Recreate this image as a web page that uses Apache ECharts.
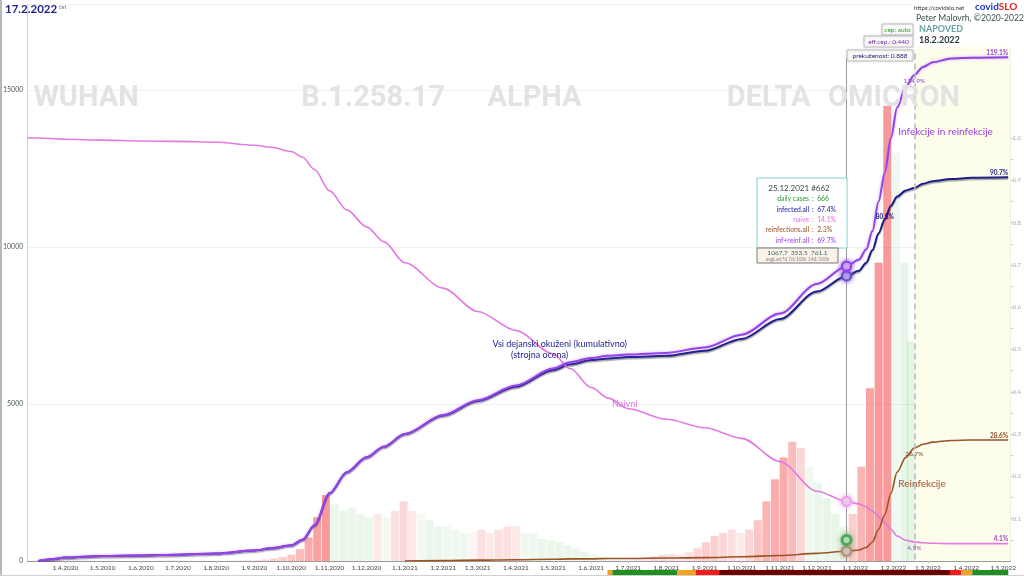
<!DOCTYPE html>
<html><head><meta charset="utf-8">
<script src="https://cdn.jsdelivr.net/npm/echarts@6/dist/echarts.min.js"></script>
<style>
html,body{margin:0;padding:0;background:#fff;}
#wrap{position:relative;width:1024px;height:576px;overflow:hidden;}
#chart{width:1024px;height:576px;}
.bl{position:absolute;left:0;top:0;width:2px;height:576px;background:#b8b8b8;}
.bb{position:absolute;left:0;bottom:0;width:1024px;height:1px;background:#d0d0d0;}
</style></head><body>
<div id="wrap"><div id="chart"></div><div class="bl"></div><div class="bb"></div></div>
<script>
// ---------- data ----------
const lineDates = ['2020-03-01','2020-03-10','2020-03-20','2020-04-01','2020-05-01','2020-06-01','2020-07-01','2020-08-01','2020-09-01','2020-09-15',
 '2020-10-01','2020-10-10','2020-10-20','2020-11-01','2020-11-15','2020-12-01','2020-12-15','2021-01-01','2021-02-01','2021-03-01',
 '2021-04-01','2021-05-01','2021-05-15','2021-06-01','2021-06-15','2021-07-01','2021-08-01','2021-09-01','2021-10-01','2021-11-01',
 '2021-12-01','2021-12-25','2022-01-04','2022-01-10','2022-01-15','2022-01-20','2022-01-25','2022-01-30','2022-02-04','2022-02-11',
 '2022-02-18','2022-02-25','2022-03-05','2022-03-20','2022-04-05','2022-05-05'];
const infReinf = [null,0.0,0.004,0.008,0.012,0.013,0.015,0.018,0.025,0.03,
 0.037,0.05,0.085,0.16,0.21,0.245,0.27,0.30,0.345,0.38,
 0.415,0.455,0.47,0.48,0.485,0.488,0.492,0.505,0.535,0.585,
 0.655,0.697,0.712,0.737,0.78,0.85,0.918,1.0,1.072,1.121,
 1.149,1.168,1.179,1.188,1.19,1.191];
const infectedAll = [null,0.0,0.004,0.008,0.012,0.013,0.015,0.018,0.025,0.03,
 0.037,0.05,0.085,0.16,0.21,0.245,0.27,0.30,0.344,0.378,
 0.412,0.451,0.465,0.475,0.479,0.482,0.485,0.497,0.525,0.572,
 0.637,0.674,0.686,0.705,0.735,0.775,0.808,0.84,0.862,0.876,
 0.882,0.892,0.898,0.903,0.906,0.907];
const naive = [1.0,1.0,0.999,0.997,0.995,0.993,0.992,0.99,0.983,0.978,
 0.968,0.955,0.925,0.875,0.83,0.79,0.755,0.705,0.645,0.59,
 0.545,0.49,0.455,0.41,0.385,0.36,0.335,0.315,0.29,0.235,
 0.165,0.141,0.135,0.128,0.118,0.105,0.09,0.075,0.059,0.049,
 0.045,0.043,0.042,0.041,0.041,0.041];
const reinfections = [null,null,null,null,null,null,null,null,null,null,
 null,null,null,null,null,null,null,0.0,0.001,0.002,
 0.003,0.004,0.005,0.005,0.006,0.006,0.007,0.008,0.010,0.013,
 0.018,0.023,0.026,0.032,0.045,0.075,0.11,0.16,0.21,0.245,
 0.267,0.276,0.281,0.285,0.286,0.286];

const weekDates = [
 '2020-03-05','2020-03-12','2020-03-19','2020-03-26','2020-04-02','2020-04-09','2020-04-16','2020-04-23','2020-04-30',
 '2020-05-07','2020-05-14','2020-05-21','2020-05-28','2020-06-04','2020-06-11','2020-06-18','2020-06-25',
 '2020-07-02','2020-07-09','2020-07-16','2020-07-23','2020-07-30','2020-08-06','2020-08-13','2020-08-20','2020-08-27',
 '2020-09-03','2020-09-10','2020-09-17','2020-09-24','2020-10-01','2020-10-08','2020-10-15','2020-10-22','2020-10-29',
 '2020-11-05','2020-11-12','2020-11-19','2020-11-26','2020-12-03','2020-12-10','2020-12-17','2020-12-24','2020-12-31',
 '2021-01-07','2021-01-14','2021-01-21','2021-01-28','2021-02-04','2021-02-11','2021-02-18','2021-02-25',
 '2021-03-04','2021-03-11','2021-03-18','2021-03-25','2021-04-01','2021-04-08','2021-04-15','2021-04-22','2021-04-29',
 '2021-05-06','2021-05-13','2021-05-20','2021-05-27','2021-06-03','2021-06-10','2021-06-17','2021-06-24',
 '2021-07-01','2021-07-08','2021-07-15','2021-07-22','2021-07-29','2021-08-05','2021-08-12','2021-08-19','2021-08-26',
 '2021-09-02','2021-09-09','2021-09-16','2021-09-23','2021-09-30','2021-10-07','2021-10-14','2021-10-21','2021-10-28',
 '2021-11-04','2021-11-11','2021-11-18','2021-11-25','2021-12-02','2021-12-09','2021-12-16','2021-12-23','2021-12-30',
 '2022-01-06','2022-01-13','2022-01-20','2022-01-27','2022-02-03','2022-02-10','2022-02-15'];
const dailyCases = [
 10,40,60,55, 45,35,25,15,8, 5,3,3,3, 3,5,12,20, 25,20,15,15,15, 15,20,20,25, 35,50,80,130,
 200,380,750,1400,2100, 1800,1600,1700,1500, 1400,1500,1400,1600,1900,
 1600,1500,1300,1100, 1100,1000,900,900, 1000,900,1000,1100, 1100,900,900,700,650,
 600,500,400,300, 200,120,80,60, 60,70,100,150,200, 220,220,280,400,
 600,800,900,1000,900, 1000,1300,1900,2600, 3300,3800,3600,3000, 2500,2000,1500,1100,1500,
 3000,5500,9500,14500,13000,9500,7000];
const trend = [
 0.2,0.3,0.2,0, -0.2,-0.2,-0.2,-0.2,-0.2, -0.2,0,0,0, 0,0.1,0.2,0.2, 0.1,-0.1,-0.1,0,0, 0,0.1,0.1,0.1, 0.2,0.3,0.4,0.4,
 0.5,0.6,0.8,0.9,1.0, -0.3,-0.4,-0.3,-0.3, -0.3,0.1,-0.1,0.2,0.3,
 0.1,-0.1,-0.3,-0.3, -0.2,-0.2,-0.2,0, 0.2,0.1,0.2,0.2, 0.1,-0.2,-0.2,-0.3,-0.3,
 -0.3,-0.3,-0.3,-0.3, -0.3,-0.3,-0.2,-0.1, 0,0.1,0.2,0.3,0.3, 0.2,0.1,0.2,0.3,
 0.4,0.4,0.3,0.2,0.1, 0.3,0.5,0.7,0.8, 0.8,0.6,0.3,-0.2, -0.3,-0.4,-0.4,-0.4,0.4,
 0.7,0.9,1.0,1.0,-0.2,-0.4,-0.5];

const monthTicks = ['2020-04-01','2020-05-01','2020-06-01','2020-07-01','2020-08-01','2020-09-01','2020-10-01','2020-11-01','2020-12-01',
 '2021-01-01','2021-02-01','2021-03-01','2021-04-01','2021-05-01','2021-06-01','2021-07-01','2021-08-01','2021-09-01','2021-10-01',
 '2021-11-01','2021-12-01','2022-01-01','2022-02-01','2022-03-01','2022-04-01','2022-05-01'];
const rightTicks = [0.1,0.2,0.3,0.4,0.5,0.6,0.7,0.8,0.9,1.0];
const leftTicks = [0,5000,10000,15000];

const variantNames = ['WUHAN','B.1.258.17','ALPHA','DELTA','OMICRON'];
const variantDates = ['2020-03-06','2020-10-09','2021-03-09','2021-09-19','2021-12-10'];

const phaseStarts = ['2021-06-15','2021-06-19','2021-08-10','2021-08-25','2021-09-13','2022-03-18','2022-03-27','2022-04-05'];
const phaseEnds   = ['2021-06-19','2021-08-10','2021-08-25','2021-09-13','2022-03-18','2022-03-27','2022-04-05','2022-05-04'];
const phaseColors = ['#f2a321','#1f8f1f','#f2a321','#ee1c1c','#6b0000','#ee1c1c','#f2a321','#1f8f1f'];

const cursorDate = '2021-12-25';
const cursorDay = 662;
const cursorDaily = 666;
const cursorStats = ['1067.7','353.5','761.1'];
const forecastDate = '2022-02-18';
const navyLabelDate = '2022-01-25';

// ---------- helpers ----------
const ts = s => { const [y,m,d] = s.split('-').map(Number); return new Date(y, m-1, d).getTime(); };
const pct = v => (v*100).toFixed(1) + '%';
const xMin = ts('2020-03-01'), xMax = ts('2022-05-07');
const pts = arr => lineDates.map((d,i)=>[ts(d), arr[i]]);
const ci = lineDates.indexOf(cursorDate);
const fi = lineDates.indexOf(forecastDate);
const ni = lineDates.indexOf(navyLabelDate);
const li = lineDates.length - 1;
const FONT = 'Lato';

function barColor(t){
  if (t > 0) return 'rgba(244,80,80,' + (0.08 + 0.5*t).toFixed(2) + ')';
  if (t < 0) return 'rgba(110,200,110,' + (0.07 + 0.22*(-t)).toFixed(2) + ')';
  return 'rgba(240,150,150,0.10)';
}
function txt(coord, text, color, size, extra){
  return Object.assign({coord, symbol:'circle', symbolSize:1, itemStyle:{color:'rgba(0,0,0,0)'},
    label: Object.assign({show:true, formatter:text, position:'inside', align:'left', verticalAlign:'middle',
      color, fontSize:size, fontFamily:FONT}, extra||{})});
}
function valLabel(coord, text, color, pos){
  return {coord, symbol:'circle', symbolSize:1, itemStyle:{color:'rgba(0,0,0,0)'},
    label:{show:true, formatter:text, position:pos, distance:2, color, fontSize:6.5, fontFamily:FONT}};
}
function endLabel(coord, text, color){
  return {coord, symbol:'circle', symbolSize:1, itemStyle:{color:'rgba(0,0,0,0)'},
    label:{show:true, formatter:text, position:'inside', align:'right', verticalAlign:'bottom', offset:[0,-1],
      color, fontSize:6.5, fontFamily:FONT, fontWeight:'bold'}};
}
function dot(coord, fill, border){
  return {coord, symbol:'circle', symbolSize:9, itemStyle:{color:fill, borderColor:border, borderWidth:2.2,
    shadowBlur:5, shadowColor:border}, label:{show:false}};
}

// ---------- chart ----------
const chart = echarts.init(document.getElementById('chart'), null, {renderer:'canvas'});
const axisFont = {fontFamily:FONT, fontSize:6.5, color:'#444'};

const option = {
  animation:false,
  backgroundColor:'#fff',
  grid:[{left:23, right:12, top:4, bottom:15}, {left:23, right:12, top:570, height:5}],
  xAxis:[{
    type:'value', min:xMin, max:xMax, gridIndex:0,
    axisLine:{lineStyle:{color:'#9a9a9a', width:1}},
    axisTick:{show:true, length:2, lineStyle:{color:'#bbb'}, customValues: monthTicks.map(ts)},
    axisLabel:Object.assign({margin:3, customValues: monthTicks.map(ts), hideOverlap:false,
      formatter: v => { const d = new Date(v); return d.getDate()+'.'+(d.getMonth()+1)+'.'+d.getFullYear(); }}, axisFont),
    splitLine:{show:false}
  },{type:'value', min:xMin, max:xMax, gridIndex:1, show:false}],
  yAxis:[{
    type:'value', min:0, max:17739, interval:5000, gridIndex:0,
    axisLine:{show:true, lineStyle:{color:'#cfcfcf'}},
    axisTick:{show:false},
    axisLabel:Object.assign({margin:4, customValues:leftTicks, formatter:v=>String(v)}, axisFont, {color:'#4a5a5a', fontSize:7}),
    splitLine:{show:true, lineStyle:{color:'#e3e3e3', type:'dotted'}}
  },{
    type:'value', min:0, max:1.3168, gridIndex:0, position:'right',
    axisLine:{show:true, lineStyle:{color:'#dedede'}},
    axisTick:{show:true, length:3, inside:false, lineStyle:{color:'#cfcfcf'},
      customValues:[0.05,0.1,0.15,0.2,0.25,0.3,0.35,0.4,0.45,0.5,0.55,0.6,0.65,0.7,0.75,0.8,0.85,0.9,0.95,1.0]},
    axisLabel:{customValues:rightTicks, margin:2, fontFamily:FONT, fontSize:6, color:'#aaa', formatter:v=>v.toFixed(1)},
    splitLine:{show:false}
  },{type:'value', min:0, max:1, gridIndex:1, show:false}],
  series:[
    {
      name:'daily', type:'bar', xAxisIndex:0, yAxisIndex:0, barWidth:8, z:1,
      data: weekDates.map((d,i)=>({value:[ts(d), dailyCases[i]], itemStyle:{color:barColor(trend[i])}})),
      markArea:{silent:true, itemStyle:{color:'#fdfdec'}, data:[[{xAxis:ts(forecastDate)},{xAxis:xMax}]]},
      markPoint:{silent:true, data: variantNames.map((n,i)=>txt([ts(variantDates[i]), 14713], n, '#e3e3e3', 29,
        {fontFamily:'Roboto', fontWeight:'bold'}))}
    },
    {
      name:'infected.all', type:'line', yAxisIndex:1, data:pts(infectedAll), symbol:'none',
      smooth:0.3, smoothMonotone:'x', z:3,
      lineStyle:{color:'#1c1c8a', width:2, shadowColor:'rgba(0,0,0,0.35)', shadowOffsetY:1.5, shadowBlur:1},
      markLine:{silent:true, symbol:['none','none'], label:{show:false},
        data:[
          [{coord:[ts(cursorDate), 1.19], lineStyle:{color:'#9a9a9a', width:1, type:'solid'}}, {coord:[ts(cursorDate), 0]}],
          [{coord:[ts(forecastDate), 1.2], lineStyle:{color:'#b8b8b8', width:1.5, type:[6,4]}}, {coord:[ts(forecastDate), 0]}]
        ]},
      markPoint:{silent:true, data:[
        dot([ts(cursorDate), infectedAll[ci]], '#d8ccf4', '#6a50c8'),
        txt([ts(navyLabelDate), infectedAll[ni]], pct(infectedAll[ni]), '#1c1c8a', 6.5, {align:'center', fontWeight:'bold', offset:[0,-2]}),
        endLabel([ts(lineDates[li]), infectedAll[li]], pct(infectedAll[li]), '#1c1c8a'),
        txt([ts('2021-03-13'), 0.513], 'Vsi dejanski okuženi (kumulativno)', '#1c1c8a', 9),
        txt([ts('2021-03-28'), 0.487], '(strojna ocena)', '#1c1c8a', 9)
      ]}
    },
    {
      name:'inf+reinf.all', type:'line', yAxisIndex:1, data:pts(infReinf), symbol:'none',
      smooth:0.3, smoothMonotone:'x', z:4,
      lineStyle:{color:'#9443e6', width:2, shadowColor:'rgba(170,110,240,0.6)', shadowBlur:3},
      markPoint:{silent:true, data:[
        dot([ts(cursorDate), infReinf[ci]], '#e4d6fa', '#9443e6'),
        valLabel([ts(forecastDate), infReinf[fi]], pct(infReinf[fi]), '#9443e6', 'bottom'),
        endLabel([ts(lineDates[li]), infReinf[li]], pct(infReinf[li]), '#9443e6'),
        txt([ts('2022-02-05'), 1.014], 'Infekcije in reinfekcije', '#9a3ee0', 10)
      ]}
    },
    {
      name:'naive', type:'line', yAxisIndex:1, data:pts(naive), symbol:'none',
      smooth:0.3, smoothMonotone:'x', z:3,
      lineStyle:{color:'#e27ae2', width:1.6},
      markPoint:{silent:true, data:[
        dot([ts(cursorDate), naive[ci]], '#f6d8f6', '#e9a4e9'),
        valLabel([ts(forecastDate), naive[fi]], pct(naive[fi]), '#a050c0', 'bottom'),
        endLabel([ts(lineDates[li]), naive[li]], pct(naive[li]), '#a43bd0'),
        txt([ts('2021-06-18'), 0.371], 'Naivni', '#e070e0', 9)
      ]}
    },
    {
      name:'reinfections.all', type:'line', yAxisIndex:1, data:pts(reinfections), symbol:'none',
      smooth:0.3, smoothMonotone:'x', z:3,
      lineStyle:{color:'#9a5426', width:1.6},
      markPoint:{silent:true, data:[
        dot([ts(cursorDate), reinfections[ci]], '#e8ddd4', '#b09078'),
        valLabel([ts(forecastDate), reinfections[fi]], pct(reinfections[fi]), '#8a4a20', 'bottom'),
        endLabel([ts(lineDates[li]), reinfections[li]], pct(reinfections[li]), '#8a4a20'),
        txt([ts('2022-02-05'), 0.182], 'Reinfekcije', '#a0522d', 10)
      ]}
    },
    {
      name:'cursorDaily', type:'scatter', yAxisIndex:0, z:5,
      data:[[ts(cursorDate), cursorDaily]], symbol:'circle', symbolSize:9,
      itemStyle:{color:'#ffffff', borderColor:'#3a9a4a', borderWidth:3, shadowBlur:5, shadowColor:'#5ab06a'}
    },
    {
      name:'phases', type:'custom', xAxisIndex:1, yAxisIndex:2,
      data: phaseStarts.map((s,i)=>[ts(s), ts(phaseEnds[i]), i]),
      renderItem:(params, api)=>{
        const a = api.coord([api.value(0), 0]);
        const b = api.coord([api.value(1), 1]);
        return {type:'rect', shape:{x:a[0], y:b[1], width:b[0]-a[0], height:a[1]-b[1]},
          style:{fill:phaseColors[api.value(2)]}};
      }
    }
  ],
  graphic:[
    {type:'text', left:5, top:3, z:100, style:{text:'17.2.2022', font:'bold 11.5px Lato', fill:'#1e1e8e',
      shadowColor:'rgba(80,80,220,0.35)', shadowBlur:2}},
    {type:'text', left:59, top:4, z:100, style:{text:'čet', font:'5.5px Lato', fill:'#778'}},
    {type:'rect', shape:{x:913, y:0, width:108, height:47}, z:99, style:{fill:'#fff'}},
    {type:'text', left:914, top:5, z:100, style:{text:'https://covidslo.net', font:'6px Lato', fill:'#333'}},
    {type:'text', left:975, top:2, z:100, style:{text:'{a|covid}{b|SLO}', rich:{
      a:{font:'bold 10px Lato', fill:'#1a36d8'}, b:{font:'bold 10px Lato', fill:'#e42020'}}}},
    {type:'text', left:916, top:14, z:100, style:{text:'Peter Malovrh, ©2020-2022', font:'8.6px Lato', fill:'#3d5252'}},
    {type:'text', left:919, top:25, z:100, style:{text:'NAPOVED', font:'bold 9px Lato', fill:'#66a4a4'}},
    {type:'text', left:919, top:36, z:100, style:{text:'18.2.2022', font:'bold 9px Lato', fill:'#2c3a3a'}},
    {type:'rect', shape:{x:882, y:24, width:31, height:11}, z:100, style:{fill:'#fafafa', stroke:'#c4c4c4', lineWidth:1, shadowBlur:2, shadowColor:'rgba(0,0,0,0.15)'}},
    {type:'text', x:897.5, y:29.5, z:101, style:{text:'cep: auto', font:'6.5px Lato', fill:'#2a9a2a', align:'center', verticalAlign:'middle'}},
    {type:'rect', shape:{x:864, y:36, width:49, height:11}, z:100, style:{fill:'#fafafa', stroke:'#c4c4c4', lineWidth:1, shadowBlur:2, shadowColor:'rgba(0,0,0,0.15)'}},
    {type:'text', x:888.5, y:41.5, z:101, style:{text:'eff.cep.: 0.440', font:'6.5px Lato', fill:'#7a2aa8', align:'center', verticalAlign:'middle'}},
    {type:'rect', shape:{x:847, y:50, width:66, height:11}, z:100, style:{fill:'#fafafa', stroke:'#c4c4c4', lineWidth:1, shadowBlur:2, shadowColor:'rgba(0,0,0,0.15)'}},
    {type:'text', x:880, y:55.5, z:101, style:{text:'prekuženost: 0.888', font:'6.5px Lato', fill:'#24246e', align:'center', verticalAlign:'middle'}},
    {type:'rect', shape:{x:757, y:178, width:90, height:70}, z:100, style:{fill:'#ffffff', stroke:'#86cccc', lineWidth:1}},
    {type:'text', x:799, y:188, z:101, style:{text:cursorDate.split('-').reverse().map(Number).join('.')+' #'+cursorDay, font:'8px Lato', fill:'#3a4646', align:'center', verticalAlign:'middle'}},
    ...[['daily cases', String(cursorDaily), '#2a9a2a'],
        ['infected.all', pct(infectedAll[ci]), '#1a1aa0'],
        ['naive', pct(naive[ci]), '#e36ce3'],
        ['reinfections.all', pct(reinfections[ci]), '#a0522d'],
        ['inf+reinf.all', pct(infReinf[ci]), '#9a3ef0']].flatMap((r,k)=>[
      {type:'text', x:809, y:199+k*10.4, z:101, style:{text:r[0], font:'6.8px Lato', fill:r[2], align:'right', verticalAlign:'middle'}},
      {type:'text', x:812, y:199+k*10.4, z:101, style:{text:':  '+r[1], font:'6.8px Lato', fill:r[2], align:'left', verticalAlign:'middle'}}
    ]),
    {type:'rect', shape:{x:757, y:248, width:81, height:15}, z:100, style:{fill:'#fbf2e8', stroke:'#7a7a7a', lineWidth:1}},
    {type:'text', x:797.5, y:252.5, z:101, style:{text:cursorStats.join('  '), font:'6.5px Lato', fill:'#2a6a6a', align:'center', verticalAlign:'middle'}},
    {type:'text', x:797.5, y:259.5, z:101, style:{text:'avgLast7d 7d/100k 14d/100k', font:'4.8px Lato', fill:'#888', align:'center', verticalAlign:'middle'}}
  ]
};
chart.setOption(option);
</script>
</body></html>
